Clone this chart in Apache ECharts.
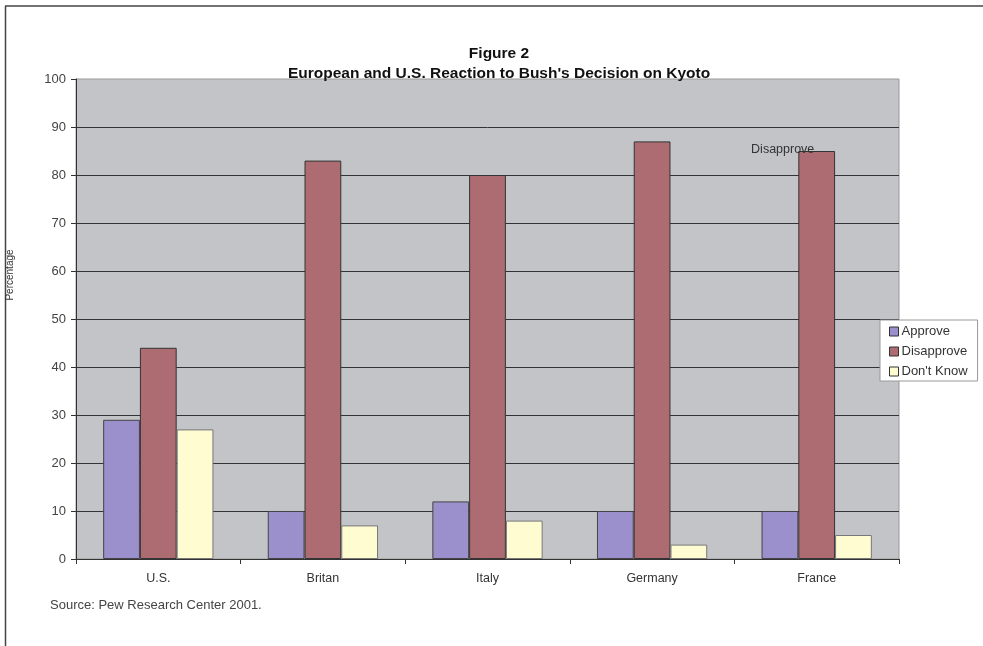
<!DOCTYPE html>
<html>
<head>
<meta charset="utf-8">
<script src="https://cdn.jsdelivr.net/npm/echarts@6/dist/echarts.min.js"></script>
<style>
html,body{margin:0;padding:0;background:#fff;}
#chart{width:983px;height:646px;}
</style>
</head>
<body>
<div id="chart"></div>
<script>
var categories = ['U.S.', 'Britan', 'Italy', 'Germany', 'France'];
var approve = [29, 10, 12, 10, 10];
var disapprove = [44, 83, 80, 87, 85];
var dontKnow = [27, 7, 8, 3, 5];
var seriesNames = ['Approve', 'Disapprove', "Don't Know"];
var yTicks = [0, 10, 20, 30, 40, 50, 60, 70, 80, 90, 100];

var FONT = '"Liberation Sans", Arial, sans-serif';
var chart = echarts.init(document.getElementById('chart'));

var disData = disapprove.map(function (v, i) {
  if (i === 4) {
    return {
      value: v,
      label: {
        show: true, position: 'top', distance: 5, offset: [-34, 10],
        formatter: 'Disapprove', fontFamily: FONT, fontSize: 12.5, color: '#333'
      }
    };
  }
  return v;
});

chart.setOption({
  animation: false,
  backgroundColor: '#fff',
  title: {
    text: 'Figure 2\nEuropean and U.S. Reaction to Bush\'s Decision on Kyoto',
    left: 499, top: 44, textAlign: 'center', padding: 0,
    textStyle: { fontFamily: FONT, fontSize: 15.5, fontWeight: 'bold', color: '#111', lineHeight: 20 }
  },
  legend: {
    orient: 'vertical',
    left: 880, top: 320,
    itemWidth: 9, itemHeight: 9, itemGap: 5,
    padding: [4, 10, 2, 9],
    borderColor: '#999', borderWidth: 1, backgroundColor: '#fff',
    icon: 'rect',
    itemStyle: { borderColor: '#333', borderWidth: 1 },
    textStyle: { fontFamily: FONT, fontSize: 13, color: '#333', padding: [0, 0, 0, -2], lineHeight: 15 },
    data: seriesNames
  },
  graphic: [
    { type: 'line', shape: { x1: 5, y1: 6, x2: 983, y2: 6 }, style: { stroke: '#444', lineWidth: 1.5 } },
    { type: 'line', shape: { x1: 5.5, y1: 6, x2: 5.5, y2: 646 }, style: { stroke: '#444', lineWidth: 1.5 } },
    { type: 'text', left: 50, top: 599, style: { text: 'Source: Pew Research Center 2001.', font: '13px ' + FONT, fill: '#444' } }
  ],
  grid: {
    left: 76, right: 84, top: 79, bottom: 87,
    outerBoundsMode: 'none',
    show: true, backgroundColor: '#c3c4c8', borderColor: '#999', borderWidth: 1
  },
  xAxis: {
    type: 'category',
    data: categories,
    axisLine: { lineStyle: { color: '#333', width: 1 } },
    axisTick: { show: true, length: 5, lineStyle: { color: '#333' } },
    axisLabel: { fontFamily: FONT, fontSize: 12.5, color: '#333', margin: 13 }
  },
  yAxis: {
    type: 'value', min: 0, max: 100, interval: 10,
    name: 'Percentage', nameLocation: 'middle', nameGap: 61, nameRotate: 90,
    nameTextStyle: { fontFamily: FONT, fontSize: 10, color: '#333', padding: [0, 0, 0, 88] },
    axisLine: { show: true, lineStyle: { color: '#333', width: 1 } },
    axisTick: { show: true, length: 5, lineStyle: { color: '#333' } },
    axisLabel: { fontFamily: FONT, fontSize: 13, color: '#444', margin: 10 },
    splitLine: { show: true, showMaxLine: false, lineStyle: { color: '#333', width: 1 } }
  },
  series: [
    {
      name: seriesNames[0], type: 'bar', data: approve,
      barGap: '0%', barCategoryGap: '33%',
      itemStyle: { color: '#9b90cc', borderColor: '#444', borderWidth: 1 }
    },
    {
      name: seriesNames[1], type: 'bar', data: disData,
      barGap: '0%', barCategoryGap: '33%',
      itemStyle: { color: '#ad6b72', borderColor: '#333', borderWidth: 1 }
    },
    {
      name: seriesNames[2], type: 'bar', data: dontKnow,
      barGap: '0%', barCategoryGap: '33%',
      itemStyle: { color: '#fffcd2', borderColor: '#777', borderWidth: 1 }
    }
  ]
});
</script>
</body>
</html>
